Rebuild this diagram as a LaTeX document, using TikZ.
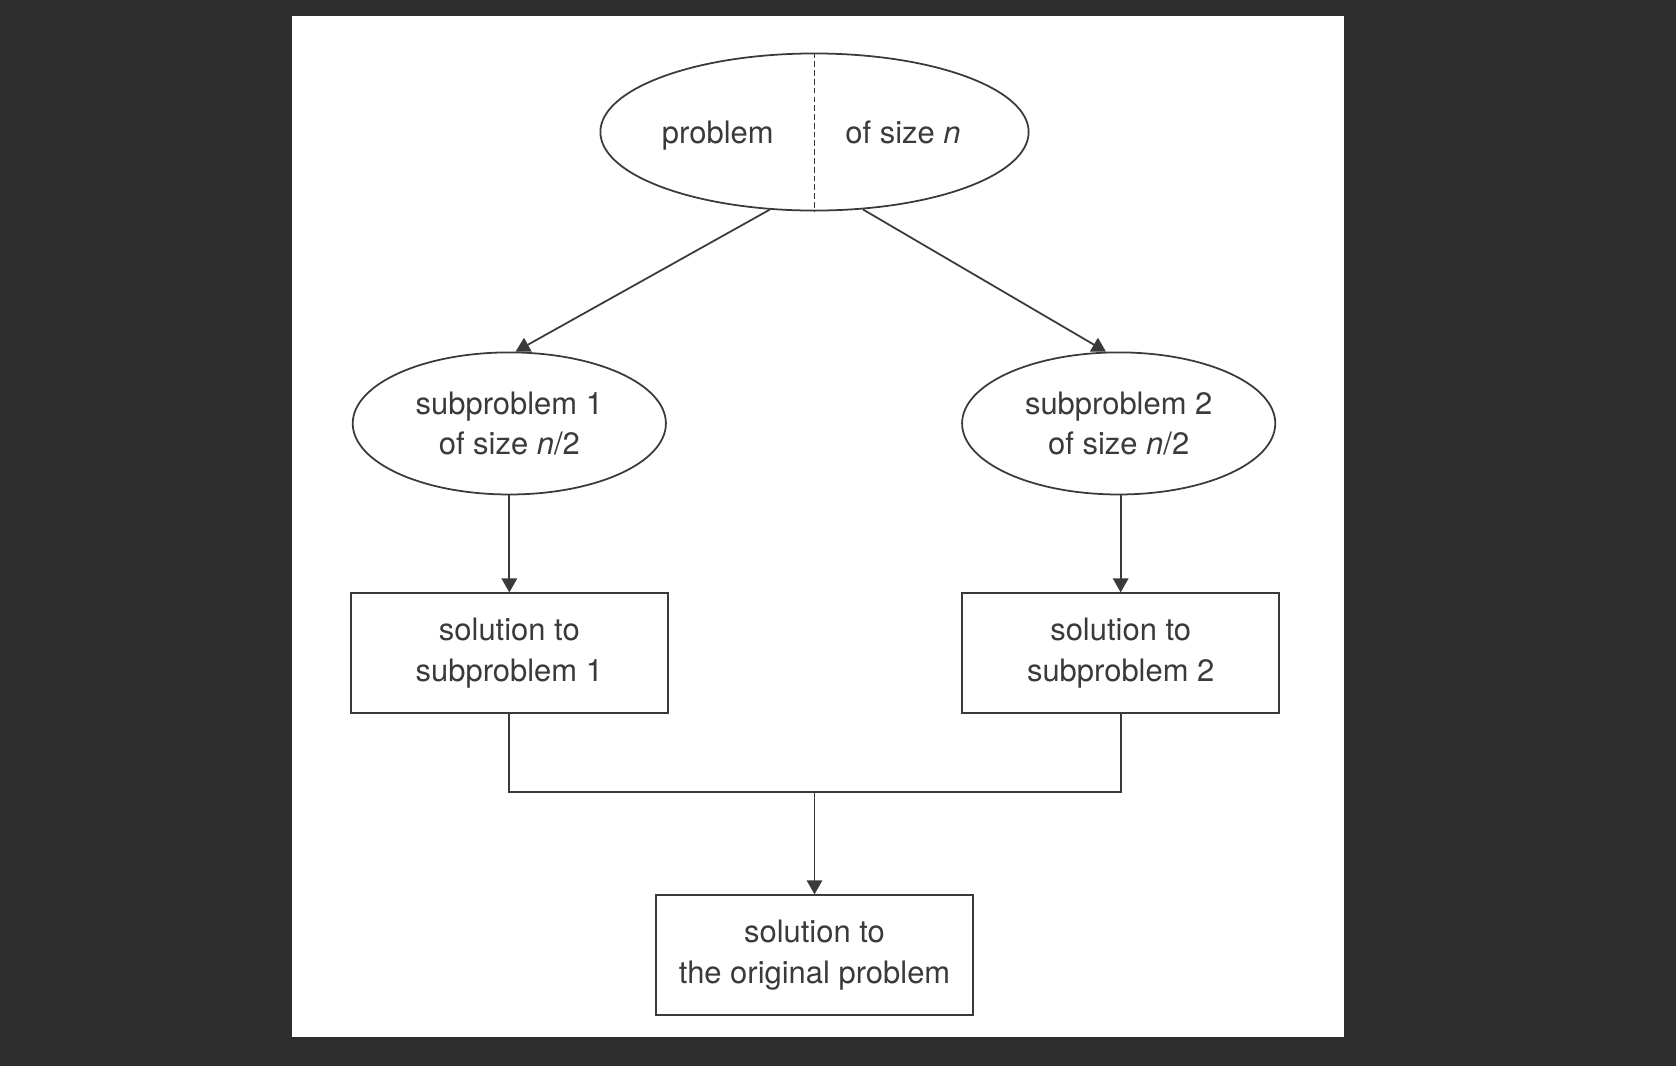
\documentclass[tikz,border=0pt]{standalone}
\usepackage{fontspec}
\setmainfont{TeX Gyre Heros}
\usepackage{tikz}
\usetikzlibrary{arrows.meta,positioning,shapes.geometric}
\definecolor{pagebg}{HTML}{2E2E2E}
\definecolor{ink}{HTML}{3A3A3A}

\begin{document}
\begin{tikzpicture}[x=0.01cm, y=-0.01cm,
		>={Triangle[length=4pt,width=4.4pt]},
		line width=0.5pt,
		every node/.append style = {font=\fontsize{8.8}{11.6}\selectfont, text=ink},
		prob/.style = {ellipse, draw=ink, align=center, inner sep=1pt, minimum width=3.13cm, minimum height=1.42cm},
		sol/.style = {rectangle, draw=ink, align=center, minimum width=3.17cm, minimum height=1.2cm},
		el/.style = {inner sep=0pt, text height=1.6ex, text depth=0.4ex}
		]
		% background and page
		\fill[pagebg] (0,0) rectangle (1676,1066);
		\fill[white] (292,16) rectangle (1344,1037);
		
		\node (p0) [prob, minimum width=4.28cm, minimum height=1.57cm] at (814.5,132) {};
		\node (t1) [el, left=0.4cm of p0.center]  {problem};
		\node (t2) [el, right=0.3cm of p0.center] {of size \textit{n}};
		\draw[ink, dash pattern=on 1.6pt off 0.9pt] (p0.north) -- (p0.south);
		
		\node (s1) [prob, below=1.40cm of p0, xshift=-3.05cm] {subproblem 1\\of size \textit{n}/2};
		\node (s2) [prob, below=1.40cm of p0, xshift=3.04cm]  {subproblem 2\\of size \textit{n}/2};
		
		\node (r1) [sol, below=0.97cm of s1] {solution to\\subproblem 1};
		\node (r2) [sol, below=0.97cm of s2, xshift=0.02cm] {solution to\\subproblem 2};
		
		\node (r0) [sol, below=1.80cm of r1, xshift=3.05cm] {solution to\\the original problem};
		\coordinate [below=0.78cm of r1.south] (j1);
		
		\path[->, ink]
		%split of the problem
		(p0.240) edge (s1.85)
		(p0.302) edge (s2.100)
		
		%solving the subproblems
		(s1) edge (r1)
		(s2.south -| r2) edge (r2)
		
		%combining the solutions
		(j1 -| r0) edge (r0)
		;
		\draw[ink] (r1) -- (j1) -| (r2);
		
\end{tikzpicture}
\end{document}
